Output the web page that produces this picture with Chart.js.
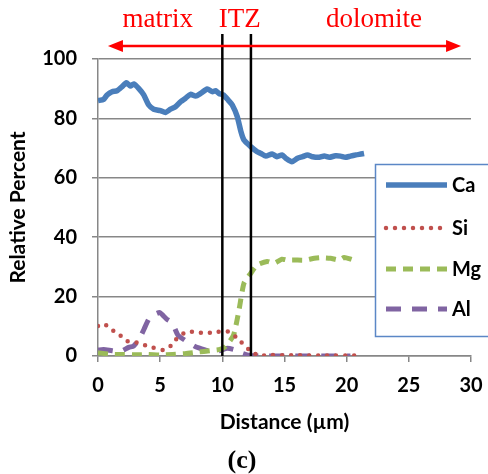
<!DOCTYPE html>
<html>
<head>
<meta charset="utf-8">
<script src="https://cdn.jsdelivr.net/npm/chart.js@4.4.1/dist/chart.umd.min.js"></script>
<style>body{margin:0;background:#fff}</style>
</head>
<body>
<canvas id="chart" width="488" height="474"></canvas>
<script>
// Data (distance in µm, relative percent)
const caDist = [0, 0.45, 0.73, 1.13, 1.53, 1.94, 2.28, 2.6, 2.87, 3.27, 3.68, 4.08, 4.48, 5.02, 5.43, 5.83, 6.23, 6.64, 7.04, 7.44, 7.85, 8.25, 8.79, 9.19, 9.46, 9.73, 10.1, 10.5, 10.8, 11.2, 11.5, 11.74, 12.28, 12.8, 13.1, 13.5, 14.0, 14.4, 14.8, 15.1, 15.6, 16.05, 16.45, 16.85, 17.26, 17.8, 18.2, 18.6, 19.1, 19.5, 19.9, 20.3, 20.75, 21.15, 21.4];
const caVal = [86, 86.4, 87.9, 89, 89.3, 90.7, 92, 90.9, 91.6, 90.1, 87.9, 84.5, 83.1, 82.6, 82, 83.1, 83.9, 85.6, 86.8, 88.1, 87.5, 88.4, 89.9, 89, 89.3, 88.4, 87.9, 86, 84.5, 80.6, 75.5, 72.7, 70.5, 68.8, 68.2, 67.3, 68, 67.1, 67.7, 66.6, 65.4, 66.6, 67.1, 67.7, 67.1, 66.9, 67.3, 66.9, 67.4, 67.3, 66.9, 67.3, 67.7, 68, 68.2];

const siDist = [0, 0.5, 1.0, 1.66, 2.26, 2.95, 3.68, 4.43, 5.24, 5.9, 6.45, 6.98, 7.6, 8.33, 9.05, 9.7, 10.5, 11.07, 11.75, 12.3, 12.95, 14, 15, 16, 17, 18, 19, 20, 21];
const siVal = [10.1, 10.8, 9.1, 7.4, 5.1, 4.7, 3.8, 2.8, 2.0, 3.6, 6.5, 7.8, 8.2, 7.8, 7.8, 8.2, 8.2, 6.5, 3.7, 1.6, 0.2, 0.3, 0.2, 0.3, 0.2, 0.2, 0.2, 0.2, 0.2];

const mgDist = [0, 1, 2, 3, 4, 5, 6, 7, 8, 9, 9.8, 10.27, 10.9, 11.34, 11.74, 12.28, 12.8, 13.6, 14.16, 14.8, 15.2, 16.05, 16.7, 17.4, 17.9, 18.7, 19.4, 19.8, 20.35, 20.75];
const mgVal = [1.1, 0.6, 0.5, 0.4, 0.5, 0.3, 0.5, 0.8, 1.3, 1.8, 2.2, 3.3, 7, 15.5, 24.5, 27.8, 30.6, 31.8, 31.2, 32.6, 32.3, 32.3, 32.3, 32.9, 33.1, 32.9, 32.3, 33.2, 32.6, 32];

const alDist = [0, 0.45, 1.13, 1.8, 2.47, 2.87, 3.27, 3.7, 4.08, 4.48, 4.97, 5.5, 5.97, 6.42, 7.1, 7.85, 8.65, 9.2, 9.8, 10.4, 11.07, 11.6, 12.1, 12.95, 14, 15, 16, 17, 18, 19, 20, 20.3];
const alVal = [2, 2.2, 1.8, 1.5, 2.9, 3.4, 5.4, 9, 12.4, 13.8, 14.6, 12.5, 11.2, 7.1, 5, 3.1, 2, 1.4, 1.8, 2.6, 2, 0.9, 0.3, 0, 0, 0, 0, 0, 0, 0, 0, 0];

const xTicks = [0, 5, 10, 15, 20, 25, 30];
const yTicks = [0, 20, 40, 60, 80, 100];
const zoneBounds = [10, 12.3];
const zoneLabels = [['matrix', 4.8], ['ITZ', 11.4], ['dolomite', 22.2]];

const toPoints = (xs, ys) => xs.map((x, i) => ({ x, y: ys[i] }));
const tickFont = { family: 'Lato', weight: 'bold', size: 20 };
const titleFont = { family: 'Lato', weight: 'bold', size: 21 };

const datasets = [
    { label: 'Ca', data: toPoints(caDist, caVal), borderColor: '#4A7EBB', borderWidth: 5.5, borderDash: [] },
    { label: 'Si', data: toPoints(siDist, siVal), borderColor: '#C0504D', borderWidth: 4.5, borderDash: [0, 9], borderCapStyle: 'round' },
    { label: 'Mg', data: toPoints(mgDist, mgVal), borderColor: '#9BBB59', borderWidth: 5, borderDash: [10, 7] },
    { label: 'Al', data: toPoints(alDist, alVal), borderColor: '#8064A2', borderWidth: 5, borderDash: [15, 11] }
].map(d => ({ ...d, pointRadius: 0, tension: 0.2, fill: false, borderJoinStyle: 'round' }));

// Zone lines, arrow, labels, legend box and panel letter
const overlays = {
    id: 'overlays',
    afterDatasetsDraw(chart) {
        const { ctx, scales: { x, y } } = chart;
        ctx.save();

        // boundary lines
        ctx.strokeStyle = '#000';
        ctx.lineWidth = 2.5;
        zoneBounds.forEach(v => {
            const px = x.getPixelForValue(v);
            ctx.beginPath();
            ctx.moveTo(px, 34);
            ctx.lineTo(px, y.getPixelForValue(0));
            ctx.stroke();
        });

        // double arrow
        const ay = 46;
        const a0 = x.getPixelForValue(0.8), a1 = x.getPixelForValue(29.2);
        ctx.strokeStyle = '#FF0000';
        ctx.fillStyle = '#FF0000';
        ctx.lineWidth = 2.5;
        ctx.beginPath();
        ctx.moveTo(a0 + 10, ay);
        ctx.lineTo(a1 - 10, ay);
        ctx.stroke();
        [[a0, 1], [a1, -1]].forEach(([tip, dir]) => {
            ctx.beginPath();
            ctx.moveTo(tip, ay);
            ctx.lineTo(tip + dir * 15, ay - 6);
            ctx.lineTo(tip + dir * 15, ay + 6);
            ctx.closePath();
            ctx.fill();
        });

        // zone labels
        ctx.font = '27px "Liberation Serif"';
        ctx.textAlign = 'center';
        ctx.textBaseline = 'alphabetic';
        zoneLabels.forEach(([t, v]) => ctx.fillText(t, x.getPixelForValue(v), 27));

        // legend
        ctx.fillStyle = '#fff';
        ctx.fillRect(375, 164, 120, 172);
        ctx.strokeStyle = '#5B87C6';
        ctx.lineWidth = 1.5;
        ctx.strokeRect(375.5, 164.5, 120, 172);
        const rows = [185, 228, 269, 309];
        chart.data.datasets.forEach((ds, i) => {
            const ly = rows[i];
            ctx.strokeStyle = ds.borderColor;
            ctx.lineWidth = ds.borderWidth;
            ctx.lineCap = ds.borderCapStyle || 'butt';
            ctx.setLineDash(ds.borderDash);
            ctx.beginPath();
            ctx.moveTo(386, ly);
            ctx.lineTo(447, ly);
            ctx.stroke();
            ctx.setLineDash([]);
            ctx.fillStyle = '#000';
            ctx.font = 'bold 20px Lato';
            ctx.textAlign = 'left';
            ctx.textBaseline = 'middle';
            ctx.fillText(ds.label, 452, ly + 1);
        });

        // panel letter
        ctx.font = 'bold 26px "Liberation Serif"';
        ctx.textAlign = 'center';
        ctx.textBaseline = 'middle';
        ctx.fillStyle = '#000';
        ctx.fillText('(c)', 242, 461);
        ctx.restore();
    }
};

new Chart(document.getElementById('chart'), {
    type: 'line',
    data: { datasets },
    plugins: [overlays],
    options: {
        responsive: false,
        animation: false,
        layout: { padding: { left: 0, right: 0, top: 59, bottom: 0 } },
        plugins: { legend: { display: false }, tooltip: { enabled: false } },
        scales: {
            x: {
                type: 'linear',
                min: 0,
                max: 30,
                afterBuildTicks: s => { s.ticks = xTicks.map(v => ({ value: v })); },
                afterFit: s => { s.height = 118; s.paddingLeft = 0; s.paddingRight = 17; },
                grid: { drawOnChartArea: false, drawTicks: true, tickLength: 6, color: '#878787', lineWidth: 1.5 },
                border: { color: '#878787', width: 1.5 },
                ticks: { font: tickFont, color: '#000', padding: 12, maxRotation: 0 },
                title: { display: true, text: 'Distance (µm)', font: titleFont, color: '#000', padding: { top: 0, bottom: 39 } }
            },
            y: {
                min: 0,
                max: 100,
                afterBuildTicks: s => { s.ticks = yTicks.map(v => ({ value: v })); },
                afterFit: s => { s.width = 98; },
                grid: { color: '#878787', lineWidth: 1.5, drawTicks: true, tickLength: 6 },
                border: { color: '#878787', width: 1.5 },
                ticks: { font: tickFont, color: '#000', padding: 15 },
                title: { display: true, text: 'Relative Percent', font: titleFont, color: '#000', padding: { top: 6, bottom: 0 } }
            }
        }
    }
});
</script>
</body>
</html>
